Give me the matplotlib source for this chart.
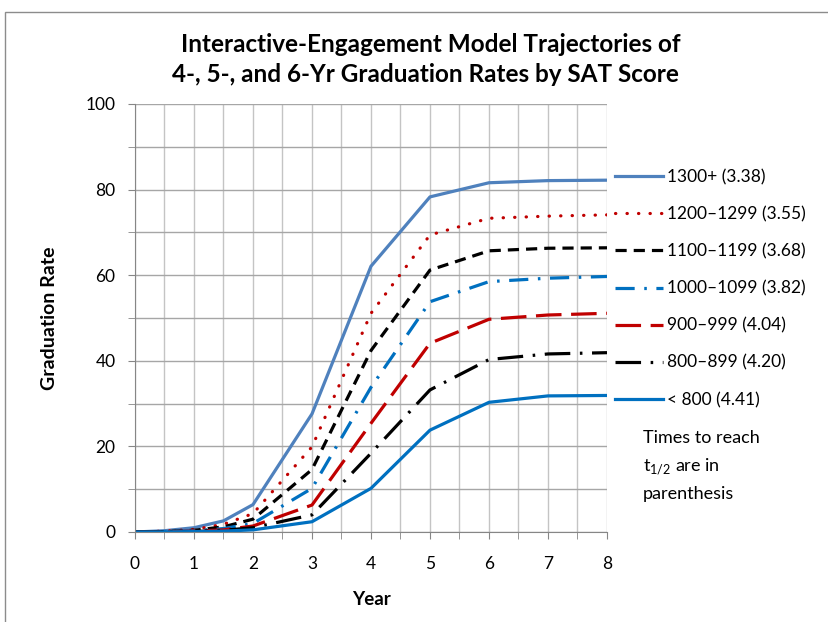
import matplotlib
matplotlib.use("Agg")
import matplotlib.pyplot as plt
from matplotlib.patches import Rectangle
from matplotlib.ticker import MultipleLocator

plt.rcParams['font.family'] = ['Lato', 'DejaVu Sans']

# years at which the model trajectories are sampled
years = [0, 0.5, 1, 1.5, 2, 3, 4, 5, 6, 7, 8]

sat_1300 = [0, 0.3, 1.0, 2.6, 6.4, 27.6, 62.1, 78.3, 81.6, 82.1, 82.2]
sat_1200 = [0, 0.2, 0.6, 1.8, 4.3, 19.9, 51.1, 69.4, 73.3, 73.8, 74.1]
sat_1100 = [0, 0.1, 0.4, 1.2, 3.0, 14.6, 42.4, 61.2, 65.7, 66.3, 66.4]
sat_1000 = [0, 0.1, 0.3, 0.8, 2.0, 10.2, 33.8, 53.8, 58.5, 59.3, 59.7]
sat_900 = [0, 0.05, 0.2, 0.5, 1.4, 6.3, 25.4, 44.1, 49.7, 50.7, 51.1]
sat_800 = [0, 0.03, 0.1, 0.4, 1.0, 4.0, 18.4, 33.2, 40.3, 41.6, 41.9]
sat_below = [0, 0.02, 0.1, 0.2, 0.5, 2.4, 10.2, 23.8, 30.3, 31.8, 31.9]

labels = ["1300+ (3.38)", "1200\u20131299 (3.55)", "1100\u20131199 (3.68)",
          "1000\u20131099 (3.82)", "900\u2013999 (4.04)", "800\u2013899 (4.20)",
          "< 800 (4.41)"]
series = [sat_1300, sat_1200, sat_1100, sat_1000, sat_900, sat_800, sat_below]

styles = [
    dict(color='#4F81BD'),
    dict(color='#C00000', dashes=(0.1, 3.5), dash_capstyle='round'),
    dict(color='black', dashes=(3.5, 2.2)),
    dict(color='#0070C0', dashes=(6, 3, 0.8, 3)),
    dict(color='#C00000', dashes=(8, 3)),
    dict(color='black', dashes=(8, 3, 0.8, 3)),
    dict(color='#0070C0'),
]

W, H = 829, 622
fig = plt.figure(figsize=(W / 100, H / 100), dpi=100)
ax = fig.add_axes([135 / W, 1 - 532 / H, 472 / W, 428 / H])

for y, lab, st in zip(series, labels, styles):
    ax.plot(years, y, lw=2.3, label=lab, **st)

ax.set_xlim(0, 8)
ax.set_ylim(0, 100)
ax.xaxis.set_major_locator(MultipleLocator(1))
ax.xaxis.set_minor_locator(MultipleLocator(0.5))
ax.yaxis.set_major_locator(MultipleLocator(20))
ax.yaxis.set_minor_locator(MultipleLocator(10))
ax.grid(True, which='both', axis='x', color='#C4C4C4', lw=1)
ax.grid(True, which='both', axis='y', color='#A6A6A6', lw=1)
ax.set_axisbelow(True)
for s in ['top', 'right']:
    ax.spines[s].set_visible(False)
for s in ['left', 'bottom']:
    ax.spines[s].set_color('#868686')
ax.tick_params(which='both', direction='out', length=5, color='#868686')
ax.tick_params(axis='x', which='major', labelsize=12.5, pad=12)
ax.tick_params(axis='y', which='major', labelsize=12.5, pad=9)

ax.set_xlabel("Year", fontsize=13.5, fontweight='bold', labelpad=14)
ax.set_ylabel("Graduation Rate", fontsize=14, fontweight='bold', labelpad=20)

fig.text(431 / W, 1 - 44 / H, "Interactive-Engagement Model Trajectories of",
         ha='center', va='center', fontsize=17.5, fontweight='bold')
fig.text(425 / W, 1 - 74 / H, "4-, 5-, and 6-Yr Graduation Rates by SAT Score",
         ha='center', va='center', fontsize=17.5, fontweight='bold')

leg = ax.legend(loc='upper left', bbox_to_anchor=(1.017, 0.848), frameon=False,
                fontsize=12.5, handlelength=2.75, handletextpad=0.25,
                labelspacing=1.21, borderpad=0, borderaxespad=0)

fig.text(643 / W, 1 - 438 / H, "Times to reach", ha='left', va='center', fontsize=13)
fig.text(643 / W, 1 - 467 / H, r"t$_{\mathregular{1/2}}$ are in", ha='left', va='center', fontsize=13)
fig.text(643 / W, 1 - 494 / H, "parenthesis", ha='left', va='center', fontsize=13)

# chart area border
fig.patches.append(Rectangle((5 / W, -0.1), 1.1, 1 - 12 / H + 0.1, transform=fig.transFigure,
                             fill=False, edgecolor='#8C8C8C', lw=1))

fig.savefig("out.png", dpi=100)
